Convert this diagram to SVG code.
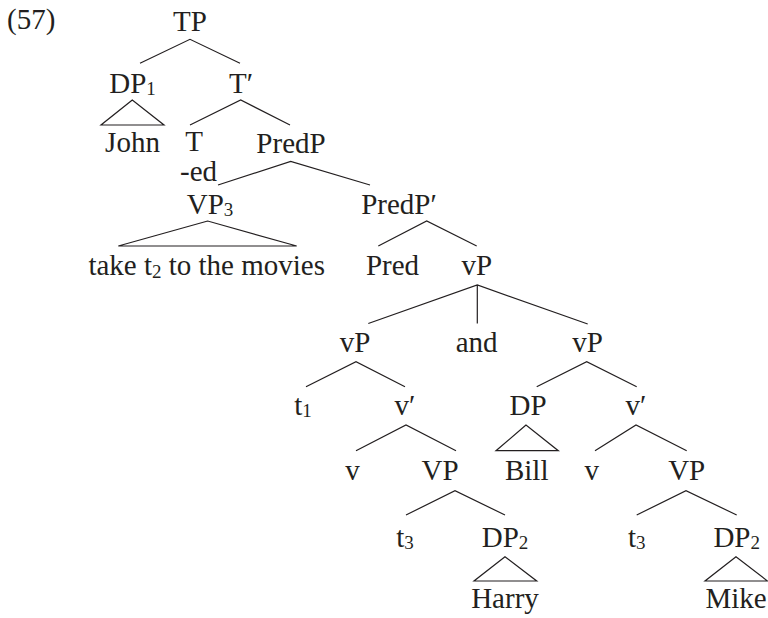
<svg xmlns="http://www.w3.org/2000/svg" width="768" height="618" viewBox="0 0 768 618">
<style>
text{font-size:29px;fill:#231f20;text-anchor:middle}
.sub{font-size:19px}
.ex{text-anchor:start}
#connectors path{fill:none;stroke:#231f20;stroke-width:1.2;stroke-linejoin:miter}
</style>
<rect width="768" height="618" fill="#fff"/>
<g id="connectors">
<path d="M140,63.3 L190,39.3 L240,63.3"/>
<path d="M132.3,100 L101,125 H164 Z"/>
<path d="M190,125 L240.7,100 L290,125"/>
<path d="M218,185 L290.7,161.5 L370,185"/>
<path d="M207.7,221 L118.3,246 H296.7 Z"/>
<path d="M378.3,246 L426.7,221 L476.7,246"/>
<path d="M368.3,323.5 L477.3,285 L587.7,324 M477.3,285 V323.5"/>
<path d="M306,386.7 L356,361.7 L405,386.7"/>
<path d="M536.7,386.7 L586.7,361.7 L636.7,386.7"/>
<path d="M356,450.7 L406,425 L456,450.7"/>
<path d="M526,425 L496,450.7 H558.3 Z"/>
<path d="M595,450.7 L636,425 L686.7,450.7"/>
<path d="M406,515 L455,490.7 L505,515"/>
<path d="M636.7,515 L686,490.7 L736.7,515"/>
<path d="M505,556.7 L474,581 H536.7 Z"/>
<path d="M736,556.7 L705,581 H767.5 Z"/>
</g>
<g id="labels" font-family="Liberation Serif, Times New Roman, DejaVu Serif, serif">
<g id="ex"><text class="ex" x="7" y="29">(57)</text></g>
<g id="n-TP"><text x="190" y="31">TP</text></g>
<g id="n-DP1"><text x="132.5" y="93">DP<tspan class="sub" dy="2">1</tspan></text></g>
<g id="n-John"><text x="132.5" y="152">John</text></g>
<g id="n-Tbar"><text x="241" y="93">T′</text></g>
<g id="n-T"><text x="194" y="151">T</text></g>
<g id="n-ed"><text x="198.5" y="181">-ed</text></g>
<g id="n-PredP"><text x="291" y="153">PredP</text></g>
<g id="n-VP3"><text x="210" y="213.5">VP<tspan class="sub" dy="2">3</tspan></text></g>
<g id="n-take"><text x="206.7" y="275">take t<tspan class="sub" dy="3">2</tspan><tspan dy="-3"> to the movies</tspan></text></g>
<g id="n-PredPbar"><text x="399" y="213.5">PredP′</text></g>
<g id="n-Pred"><text x="392.5" y="275">Pred</text></g>
<g id="n-vP"><text x="476.7" y="275">vP</text></g>
<g id="n-vPL"><text x="355" y="352">vP</text></g>
<g id="n-and"><text x="476.7" y="352">and</text></g>
<g id="n-vPR"><text x="587.5" y="352">vP</text></g>
<g id="n-t1"><text x="303" y="415">t<tspan class="sub" dy="2">1</tspan></text></g>
<g id="n-vbarL"><text x="405" y="415">v′</text></g>
<g id="n-DP"><text x="528" y="415">DP</text></g>
<g id="n-vbarR"><text x="636" y="415">v′</text></g>
<g id="n-vL"><text x="352.5" y="480">v</text></g>
<g id="n-VPL"><text x="440" y="480">VP</text></g>
<g id="n-Bill"><text x="526.7" y="480">Bill</text></g>
<g id="n-vR"><text x="591.7" y="480">v</text></g>
<g id="n-VPR"><text x="686.7" y="480">VP</text></g>
<g id="n-t3L"><text x="405" y="547">t<tspan class="sub" dy="2">3</tspan></text></g>
<g id="n-DP2L"><text x="505" y="547">DP<tspan class="sub" dy="2">2</tspan></text></g>
<g id="n-t3R"><text x="636.7" y="547">t<tspan class="sub" dy="2">3</tspan></text></g>
<g id="n-DP2R"><text x="736.7" y="547">DP<tspan class="sub" dy="2">2</tspan></text></g>
<g id="n-Harry"><text x="505" y="608">Harry</text></g>
<g id="n-Mike"><text x="736" y="608">Mike</text></g>
</g>
</svg>
